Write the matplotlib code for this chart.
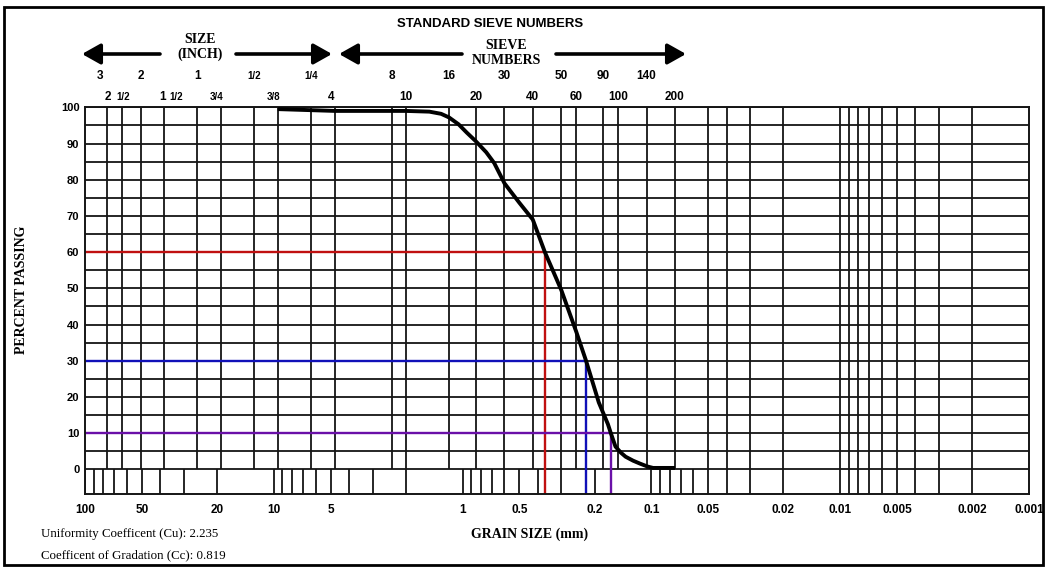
import matplotlib.pyplot as plt
from matplotlib.patches import Rectangle

# grain size curve (mm, % passing)
curve_mm = [9.525, 4.75, 2.0, 1.5, 1.3, 1.18, 1.05, 0.95, 0.85, 0.75, 0.68, 0.6, 0.5,
            0.425, 0.3666, 0.33, 0.3, 0.25, 0.2219, 0.19, 0.17, 0.164, 0.155, 0.145,
            0.137, 0.125, 0.115, 0.105, 0.098, 0.075]
curve_pct = [99.5, 99.0, 99.0, 98.8, 98.2, 97.2, 95.3, 93.0, 90.6, 87.6, 84.6, 79.0, 73.6,
             69.0, 60.0, 54.5, 49.5, 38.0, 30.0, 18.5, 12.5, 10.0, 6.3, 4.6,
             3.5, 2.4, 1.6, 0.8, 0.4, 0.4]

# D60, D30, D10
d_pct = [60, 30, 10]
d_mm = [0.3666, 0.2219, 0.164]
d_colors = ["#c01010", "#1010b8", "#6a10a8"]

# grid lines
coarse_lines = [76.2, 63.5, 50.8, 38.1, 25.4, 19.05, 12.7, 9.525, 6.35, 4.75,
                2.36, 2.0, 1.18, 0.85, 0.6, 0.425, 0.3, 0.25, 0.18, 0.15, 0.106, 0.075]
fine_lines = [0.05, 0.04, 0.03, 0.02, 0.01, 0.009, 0.008, 0.007, 0.006, 0.005,
              0.004, 0.003, 0.002]
band_ticks = [100, 90, 80, 70, 60, 50, 40, 30, 20, 10, 9, 8, 7, 6, 5, 4, 3, 2,
              1, 0.9, 0.8, 0.7, 0.6, 0.5, 0.4, 0.3, 0.2,
              0.1, 0.09, 0.08, 0.07, 0.06]

# labels
x_ticks = [100, 50, 20, 10, 5, 1, 0.5, 0.2, 0.1, 0.05, 0.02, 0.01, 0.005, 0.002, 0.001]
x_labels = ["100", "50", "20", "10", "5", "1", "0.5", "0.2", "0.1", "0.05", "0.02",
            "0.01", "0.005", "0.002", "0.001"]
inch_row1 = ["3", "2", "1", "1/2", "1/4"]
inch_row1_mm = [76.2, 50.8, 25.4, 12.7, 6.35]
inch_row2 = ["3/4", "3/8", "4"]
inch_row2_mm = [19.05, 9.525, 4.75]
sieve_row1 = ["8", "16", "30", "50", "90", "140"]
sieve_row1_mm = [2.36, 1.18, 0.6, 0.3, 0.18, 0.106]
sieve_row2 = ["10", "20", "40", "60", "100", "200"]
sieve_row2_mm = [2.0, 0.85, 0.425, 0.25, 0.15, 0.075]

ymin = -6.8
sans = "Liberation Sans"
serif = "Liberation Serif"
gc = "#151515"

fig = plt.figure(figsize=(10.48, 5.68), dpi=100)
ax = fig.add_axes([85 / 1048, 1 - 494 / 568, 944 / 1048, 386.7 / 568])
ax.set_xscale("log")
ax.set_xlim(100, 0.001)
ax.set_ylim(ymin, 100)

ax.hlines(list(range(0, 101, 5)), 100, 0.001, color=gc, lw=1.3, zorder=1)
ax.vlines(coarse_lines, 0, 100, color=gc, lw=1.3, zorder=1)
ax.vlines(fine_lines, ymin, 100, color=gc, lw=1.3, zorder=1)
ax.vlines(band_ticks, ymin, 0, color=gc, lw=1.3, zorder=1)

for p, d, c in zip(d_pct, d_mm, d_colors):
    ax.plot([100, d, d], [p, p, ymin], color=c, lw=1.7, zorder=2)

ax.plot(curve_mm, curve_pct, color="black", lw=2.8, zorder=3,
        solid_capstyle="butt", solid_joinstyle="round")

for s in ax.spines.values():
    s.set_color(gc)
    s.set_linewidth(1.4)

ax.set_xticks(x_ticks, x_labels)
ax.minorticks_off()
ax.set_yticks(list(range(0, 101, 10)))
ax.tick_params(axis="x", length=0, pad=7)
ax.tick_params(axis="y", length=0, pad=4)
for t in ax.get_xticklabels():
    t.set_fontfamily(sans)
    t.set_fontweight("bold")
    t.set_fontsize(8.5)
for t in ax.get_yticklabels():
    t.set_fontfamily(sans)
    t.set_fontweight("bold")
    t.set_fontsize(8)

big = dict(fontfamily=sans, fontweight="bold", fontsize=8.5, ha="center", va="center",
           annotation_clip=False)
small = dict(fontfamily=sans, fontweight="bold", fontsize=7, ha="center", va="center",
             annotation_clip=False)

y1, y2 = 108.7, 102.8
for lab, mm in zip(inch_row1, inch_row1_mm):
    st = small if "/" in lab else big
    dx = -5 if lab == "3" else 0
    ax.annotate(lab, (mm, y1), xytext=(dx, 0), textcoords="offset points", **st)
ax.annotate("2", (63.5, y2), xytext=(-10, 0), textcoords="offset points", **big)
ax.annotate("1/2", (63.5, y2), xytext=(1, 0), textcoords="offset points", **small)
ax.annotate("1", (38.1, y2), xytext=(-1, 0), textcoords="offset points", **big)
ax.annotate("1/2", (38.1, y2), xytext=(9, 0), textcoords="offset points", **small)
for lab, mm in zip(inch_row2, inch_row2_mm):
    st = small if "/" in lab else big
    ax.annotate(lab, (mm, y2), xytext=(-3, 0), textcoords="offset points", **st)
for lab, mm in zip(sieve_row1, sieve_row1_mm):
    ax.annotate(lab, (mm, y1), **big)
for lab, mm in zip(sieve_row2, sieve_row2_mm):
    ax.annotate(lab, (mm, y2), **big)

# header text and arrows (axes fraction)
def fx(px):
    return (px - 85) / 944

def fy(py):
    return (494 - py) / 386.7

arrow = dict(arrowstyle="-|>,head_length=0.8,head_width=0.45", color="black", lw=2.6,
             shrinkA=0, shrinkB=0, mutation_scale=14)
for x0, x1, yy in [(160, 82, 54), (236, 332, 54), (462, 339, 54), (556, 686, 54)]:
    ax.annotate("", xy=(fx(x1), fy(yy)), xytext=(fx(x0), fy(yy)), xycoords="axes fraction",
                arrowprops=arrow, annotation_clip=False)

ax.text(fx(200), fy(47), "SIZE\n(INCH)", transform=ax.transAxes, ha="center", va="center",
        fontfamily=serif, fontweight="bold", fontsize=10, linespacing=1.2)
ax.text(fx(506), fy(53), "SIEVE\nNUMBERS", transform=ax.transAxes, ha="center", va="center",
        fontfamily=serif, fontweight="bold", fontsize=10, linespacing=1.2)
ax.text(fx(490), fy(24), "STANDARD SIEVE NUMBERS", transform=ax.transAxes, ha="center",
        va="center", fontfamily=sans, fontweight="bold", fontsize=9.5)

fig.text(22 / 1048, 1 - 290 / 568, "PERCENT PASSING", rotation=90, ha="center", va="center",
         fontfamily=serif, fontweight="bold", fontsize=10)
fig.text(530 / 1048, 1 - 534 / 568, "GRAIN SIZE (mm)", ha="center", va="center",
         fontfamily=serif, fontweight="bold", fontsize=10)
fig.text(41 / 1048, 1 - 534 / 568, "Uniformity Coefficent (Cu): 2.235", ha="left",
         va="center", fontfamily=serif, fontsize=9.3)
fig.text(41 / 1048, 1 - 555 / 568, "Coefficent of Gradation (Cc): 0.819", ha="left",
         va="center", fontfamily=serif, fontsize=9.3)

fig.patches.append(Rectangle((4 / 1048, 3 / 568), 1039 / 1048, 558 / 568,
                             transform=fig.transFigure, fill=False, lw=2, color="black"))

fig.savefig("out.png", dpi=100)
